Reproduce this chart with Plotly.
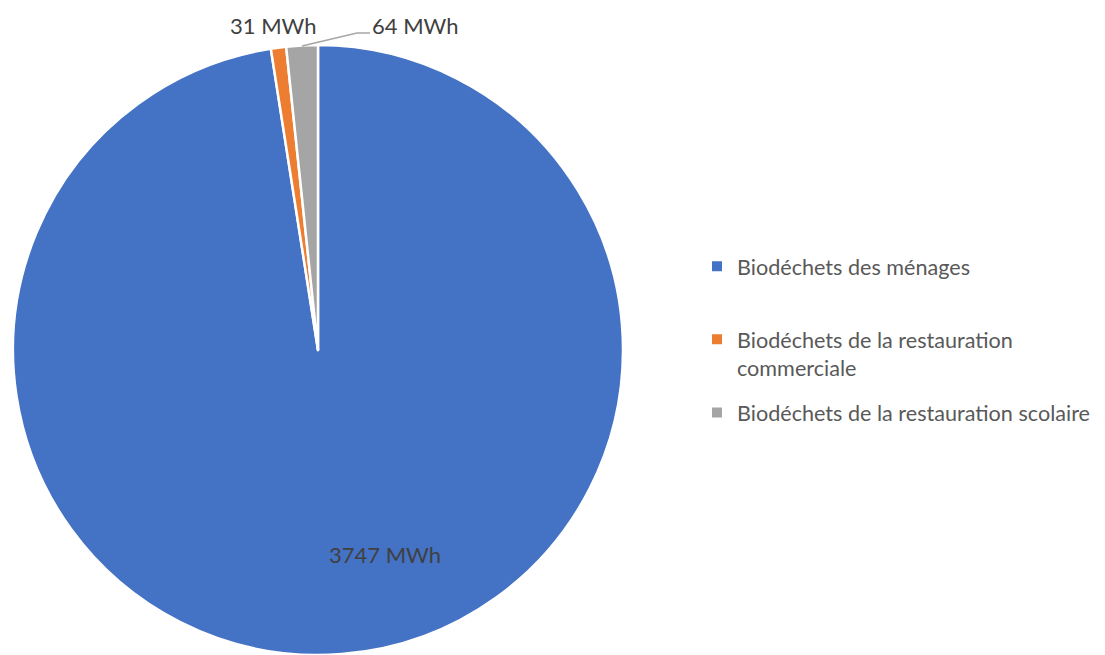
import plotly.graph_objects as go

labels = ["Biodéchets des ménages", "Biodéchets de la restauration<br>commerciale", "Biodéchets de la restauration scolaire"]
legend_names = ["Biodéchets des ménages<br> ", "Biodéchets de la restauration<br>commerciale", "Biodéchets de la restauration scolaire"]
values = [3747, 31, 64]
colors = ["#4472C4", "#ED7D31", "#A5A5A5"]
unit = "MWh"
text_labels = [f"{v} {unit}" for v in values]

FONT = "Lato, Open Sans, sans-serif"
W, H = 1097, 647   # page body adds an 8px margin


def fx(px):
    return (px - 8) / W


def fy(py):
    return 1 - (py - 8) / H


fig = go.Figure()
fig.add_trace(go.Pie(
    labels=labels,
    values=values,
    textinfo="none",
    sort=False,
    direction="clockwise",
    rotation=0,
    marker=dict(colors=colors, line=dict(color="white", width=2.5)),
    domain=dict(x=[fx(12), fx(624)], y=[0.0, fy(45)]),
    hoverinfo="label+value",
    showlegend=False,
))

# legend entries (one group per slice so spacing can be controlled)
for i, (lab, col) in enumerate(zip(legend_names, colors)):
    fig.add_trace(go.Scatter(
        x=[None], y=[None], mode="markers",
        marker=dict(symbol="square", size=10, color=col),
        name=lab, legendgroup=str(i), showlegend=True, hoverinfo="skip",
    ))

# data labels
label_pos = [(385, 554), (273, 25), (415, 25)]
for txt, (px, py) in zip(text_labels, label_pos):
    fig.add_annotation(
        x=fx(px), y=fy(py), xref="paper", yref="paper", text=txt, showarrow=False,
        xanchor="center", yanchor="middle",
        font=dict(family=FONT, size=22, color="#404040"),
    )

# leader line for the small grey slice label
fig.add_shape(
    type="path", xref="paper", yref="paper",
    path=f"M {fx(302)} {fy(46)} L {fx(357)} {fy(33)} L {fx(370)} {fy(33)}",
    line=dict(color="#A6A6A6", width=1.5),
)

fig.update_layout(
    width=W, height=H,
    margin=dict(l=0, r=0, t=0, b=0),
    paper_bgcolor="white",
    plot_bgcolor="white",
    xaxis=dict(visible=False),
    yaxis=dict(visible=False),
    legend=dict(
        x=fx(697), y=fy(245.6), xanchor="left", yanchor="top",
        font=dict(family=FONT, size=21.6, color="#595959"),
        tracegroupgap=14,
        valign="top",
        bgcolor="rgba(0,0,0,0)",
    ),
)

fig.write_html("out.html")
